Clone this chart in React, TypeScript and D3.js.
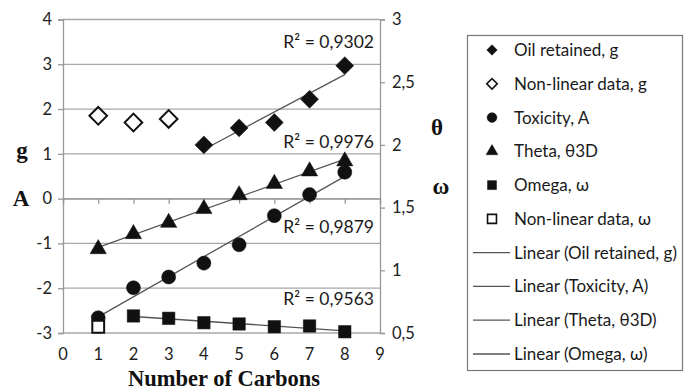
import React, { useEffect, useRef } from 'react';
import * as d3 from 'd3';

// carbons on the x axis
const carbons = [1, 2, 3, 4, 5, 6, 7, 8];

// left axis series (g / A)
const oilX = [4, 5, 6, 7, 8];
const oilRetained = [1.2, 1.58, 1.7, 2.22, 2.97];
const nonLinearGX = [1, 2, 3];
const nonLinearG = [1.85, 1.7, 1.78];
const toxicity = [-2.66, -1.99, -1.75, -1.44, -1.03, -0.38, 0.09, 0.59];

// right axis series (theta / omega)
const theta = [1.17, 1.29, 1.38, 1.49, 1.6, 1.69, 1.79, 1.87];
const omegaX = [2, 3, 4, 5, 6, 7, 8];
const omega = [0.636, 0.617, 0.582, 0.572, 0.55, 0.556, 0.51];
const nonLinearOmegaX = [1];
const nonLinearOmega = [0.55];

const leftTicks = [-3, -2, -1, 0, 1, 2, 3, 4];
const rightTicks = [0.5, 1, 1.5, 2, 2.5, 3];
const xTicks = [0, 1, 2, 3, 4, 5, 6, 7, 8, 9];

const r2Labels = ['R² = 0,9302', 'R² = 0,9976', 'R² = 0,9879', 'R² = 0,9563'];

const legendItems = [
  'Oil retained, g',
  'Non-linear data, g',
  'Toxicity, A',
  'Theta, θ3D',
  'Omega, ω',
  'Non-linear data, ω',
  'Linear (Oil retained, g)',
  'Linear (Toxicity, A)',
  'Linear (Theta, θ3D)',
  'Linear (Omega, ω)',
];

const fit = (xs: number[], ys: number[]) => {
  const mx = d3.mean(xs) as number;
  const my = d3.mean(ys) as number;
  let num = 0;
  let den = 0;
  xs.forEach((x, i) => {
    num += (x - mx) * (ys[i] - my);
    den += (x - mx) * (x - mx);
  });
  const b = num / den;
  return (x: number) => my + b * (x - mx);
};

const W = 685;
const H = 391;
const FONT = 'Lato, "Open Sans", sans-serif';

export default function App() {
  const svgRef = useRef<SVGSVGElement>(null);

  useEffect(() => {
    if (!svgRef.current) return;
    const svg = d3.select(svgRef.current);
    svg.selectAll('*').remove();

    const left = 63;
    const right = 380;
    const top = 19.5;
    const bottom = 333;

    const x = d3.scaleLinear().domain([0, 9]).range([left, right]);
    const yL = d3.scaleLinear().domain([-3, 4]).range([bottom, top]);
    const yR = d3.scaleLinear().domain([0.5, 3]).range([bottom, top]);

    // gridlines
    svg.append('g')
      .selectAll('line')
      .data(leftTicks)
      .enter()
      .append('line')
      .attr('x1', left)
      .attr('x2', right)
      .attr('y1', (d: number) => yL(d))
      .attr('y2', (d: number) => yL(d))
      .attr('stroke', '#a8a8a8')
      .attr('stroke-width', 1.3);

    // left axis
    const gl = svg.append('g').attr('transform', `translate(${left},0)`)
      .call(d3.axisLeft(yL).tickValues(leftTicks).tickSize(5).tickPadding(6).tickFormat((d: any) => String(d)));
    // right axis
    const gr = svg.append('g').attr('transform', `translate(${right},0)`)
      .call(d3.axisRight(yR).tickValues(rightTicks).tickSize(5).tickPadding(7)
        .tickFormat((d: any) => String(d).replace('.', ',')));
    // x axis crossing at 0
    const gx = svg.append('g').attr('transform', `translate(0,${yL(0)})`)
      .call(d3.axisBottom(x).tickValues(xTicks).tickSize(5).tickFormat(() => ''));
    [gl, gr, gx].forEach((g) => {
      g.select('.domain').attr('stroke', '#999').attr('stroke-width', 1.3);
      g.selectAll('.tick line').attr('stroke', '#999').attr('stroke-width', 1.3);
      g.selectAll('text').attr('font-family', FONT).attr('font-size', 16.5).attr('fill', '#222');
    });

    // x tick labels at the bottom
    svg.append('g')
      .selectAll('text')
      .data(xTicks)
      .enter()
      .append('text')
      .attr('x', (d: number) => x(d))
      .attr('y', 360)
      .attr('text-anchor', 'middle')
      .attr('font-family', FONT)
      .attr('font-size', 16.5)
      .attr('fill', '#222')
      .text((d: number) => String(d));

    // trendlines
    const trend = (xs: number[], ys: number[], y: any) => {
      const f = fit(xs, ys);
      const x0 = d3.min(xs) as number;
      const x1 = d3.max(xs) as number;
      svg.append('line')
        .attr('x1', x(x0)).attr('y1', y(f(x0)))
        .attr('x2', x(x1)).attr('y2', y(f(x1)))
        .attr('stroke', '#555')
        .attr('stroke-width', 1.3);
    };
    trend(oilX, oilRetained, yL);
    trend(carbons, toxicity, yL);
    trend(carbons, theta, yR);
    trend(omegaX, omega, yR);

    const sym = (type: any, size: number) => d3.symbol().type(type).size(size)();

    const markers = (xs: number[], ys: number[], y: any, type: any, size: number, fill: string, rot = 0) => {
      svg.append('g')
        .selectAll('path')
        .data(xs)
        .enter()
        .append('path')
        .attr('d', sym(type, size))
        .attr('transform', (d: number, i: number) => `translate(${x(d)},${y(ys[i])}) rotate(${rot})`)
        .attr('fill', fill)
        .attr('stroke', '#111')
        .attr('stroke-width', fill === 'white' ? 2 : 0.5);
    };
    markers(nonLinearGX, nonLinearG, yL, d3.symbolSquare, 155, 'white', 45);
    markers(oilX, oilRetained, yL, d3.symbolSquare, 160, '#111', 45);
    markers(carbons, toxicity, yL, d3.symbolCircle, 155, '#111');
    markers(carbons, theta, yR, d3.symbolTriangle, 115, '#111');
    markers(omegaX, omega, yR, d3.symbolSquare, 155, '#111');
    markers(nonLinearOmegaX, nonLinearOmega, yR, d3.symbolSquare, 140, 'white');

    // R² labels
    const r2Y = [42, 142, 227, 299];
    svg.append('g')
      .selectAll('text')
      .data(r2Labels)
      .enter()
      .append('text')
      .attr('x', 374)
      .attr('y', (_: string, i: number) => r2Y[i])
      .attr('dy', '0.35em')
      .attr('text-anchor', 'end')
      .attr('font-family', FONT)
      .attr('font-size', 17.5)
      .attr('fill', '#1a1a1a')
      .text((d: string) => d);

    // axis titles
    const serif = 'Liberation Serif, "DejaVu Serif", serif';
    const title = (tx: number, ty: number, s: string, size = 23) =>
      svg.append('text')
        .attr('x', tx).attr('y', ty).attr('dy', '0.35em')
        .attr('text-anchor', 'middle')
        .attr('font-family', serif)
        .attr('font-weight', 'bold')
        .attr('font-size', size)
        .attr('fill', '#111')
        .text(s);
    title(22, 150, 'g');
    title(21, 198, 'A');
    title(437, 127, 'θ');
    title(441, 186, 'ω');
    title(224, 378, 'Number of Carbons', 22.5);

    // legend
    const lg = svg.append('g');
    lg.append('rect')
      .attr('x', 467.5).attr('y', 35.5)
      .attr('width', 215).attr('height', 335)
      .attr('fill', 'white')
      .attr('stroke', '#777')
      .attr('stroke-width', 1.2);
    const ly = d3.scaleLinear().domain([0, 9]).range([50, 354]);
    legendItems.forEach((label, i) => {
      const cy = ly(i);
      if (i < 6) {
        const specs: any[] = [
          [d3.symbolSquare, 55, '#111', 45],
          [d3.symbolSquare, 55, 'white', 45],
          [d3.symbolCircle, 75, '#111', 0],
          [d3.symbolTriangle, 60, '#111', 0],
          [d3.symbolSquare, 80, '#111', 0],
          [d3.symbolSquare, 80, 'white', 0],
        ];
        const [t, s, f, r] = specs[i];
        lg.append('path')
          .attr('d', sym(t, s))
          .attr('transform', `translate(492,${cy}) rotate(${r})`)
          .attr('fill', f)
          .attr('stroke', '#111')
          .attr('stroke-width', f === 'white' ? 1.6 : 0.5);
      } else {
        lg.append('line')
          .attr('x1', 473).attr('x2', 510)
          .attr('y1', cy).attr('y2', cy)
          .attr('stroke', '#555')
          .attr('stroke-width', 1.3);
      }
      lg.append('text')
        .attr('x', 514)
        .attr('y', cy)
        .attr('dy', '0.35em')
        .attr('font-family', FONT)
        .attr('font-size', 17)
        .attr('fill', '#1a1a1a')
        .text(label);
    });
  }, []);

  return (
    <svg
      ref={svgRef}
      width={W}
      height={H}
      style={{ position: 'absolute', left: 0, top: 0, background: 'white' }}
    />
  );
}
